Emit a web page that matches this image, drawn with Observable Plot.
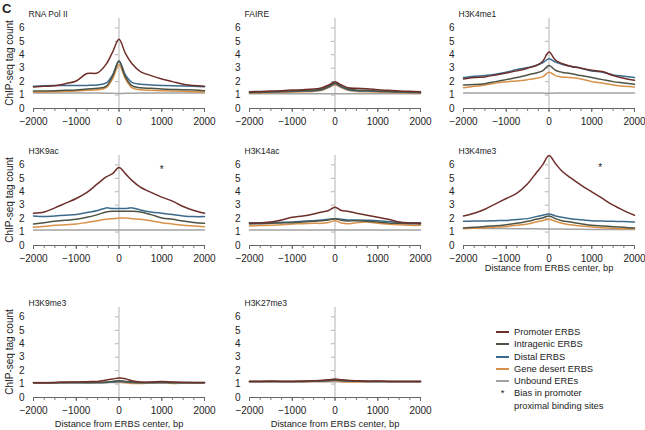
<!DOCTYPE html>
<html><head><meta charset="utf-8">
<script src="https://cdn.jsdelivr.net/npm/d3@7"></script>
<script src="https://cdn.jsdelivr.net/npm/@observablehq/plot@0.6"></script>
<style>
body{margin:0;background:#fff;font-family:"Liberation Sans",Arial,sans-serif;color:#222;}
#wrap{position:relative;width:645px;height:430px;overflow:hidden;background:#fff;}
.cell{position:absolute;}
.ylab{position:absolute;width:120px;height:12px;line-height:12px;text-align:center;font-size:10px;white-space:nowrap;transform:rotate(-90deg);transform-origin:50% 50%;}
#legend{position:absolute;left:496px;top:326px;font-size:9.3px;line-height:12.3px;}
#legend .item{display:flex;align-items:center;white-space:nowrap;}
#legend .sw{display:inline-block;width:13px;height:2px;margin-right:5px;}
#legend .star{display:inline-block;width:13px;margin-right:5px;text-align:center;}
</style></head><body><div id="wrap"><div id="legend"></div></div>
<script>
// ---- data ----
const xs = [-2000,-1750,-1500,-1250,-1000,-750,-500,-300,-150,0,150,300,500,750,1000,1250,1500,1750,2000];
const seriesNames = ["Promoter ERBS","Intragenic ERBS","Distal ERBS","Gene desert ERBS","Unbound EREs"];
const seriesColors = ["#6e2f2b","#4d5445","#3b6a8d","#d9914a","#a3a3a3"];
const panelTitles = ["RNA Pol II","FAIRE","H3K4me1","H3K9ac","H3K14ac","H3K4me3","H3K9me3","H3K27me3"];
const xTickLabels = [-2000,-1000,0,1000,2000];
const xMinorTicks = [-2000,-1750,-1500,-1250,-1000,-750,-500,-250,0,250,500,750,1000,1250,1500,1750,2000];
const yTickLabels = [0,1,2,3,4,5,6];
const xAxisTitle = "Distance from ERBS center, bp";
const yAxisTitle = "ChIP-seq tag count";
const figureTag = "C";
const starPanels = ["H3K9ac","H3K4me3"];
const starX = [1000,1200];
const starY = [5.9,6.0];
const legendStarText = ["Bias in promoter","proximal binding sites"];

const polII_promoter   = [1.6,1.65,1.7,1.85,2.05,2.6,2.65,3.3,4.2,5.15,4.1,3.35,2.75,2.45,2.2,2.0,1.8,1.72,1.65];
const polII_intragenic = [1.3,1.3,1.32,1.35,1.38,1.45,1.5,1.65,2.4,3.5,2.35,1.7,1.55,1.5,1.45,1.42,1.4,1.38,1.32];
const polII_distal     = [1.65,1.7,1.72,1.72,1.72,1.72,1.75,1.9,2.5,3.55,2.5,1.95,1.8,1.75,1.72,1.7,1.68,1.65,1.62];
const polII_desert     = [1.22,1.22,1.25,1.28,1.3,1.35,1.4,1.55,2.2,3.25,2.2,1.55,1.4,1.35,1.32,1.3,1.28,1.25,1.22];
const polII_unbound    = [1.15,1.15,1.15,1.15,1.15,1.15,1.15,1.14,1.13,1.12,1.13,1.14,1.15,1.15,1.15,1.15,1.15,1.15,1.15];

const faire_promoter   = [1.25,1.27,1.3,1.33,1.37,1.4,1.45,1.55,1.75,2.0,1.75,1.55,1.5,1.47,1.4,1.35,1.3,1.28,1.25];
const faire_intragenic = [1.2,1.22,1.25,1.28,1.3,1.33,1.35,1.45,1.65,1.9,1.65,1.45,1.38,1.35,1.3,1.28,1.25,1.22,1.2];
const faire_distal     = [1.2,1.2,1.22,1.25,1.27,1.3,1.32,1.4,1.6,1.85,1.6,1.4,1.32,1.3,1.27,1.25,1.22,1.2,1.2];
const faire_desert     = [1.15,1.15,1.18,1.2,1.22,1.25,1.27,1.35,1.55,1.75,1.55,1.35,1.27,1.25,1.22,1.2,1.18,1.15,1.15];
const faire_unbound    = [1.1,1.1,1.1,1.1,1.1,1.1,1.1,1.1,1.1,1.1,1.1,1.1,1.1,1.1,1.1,1.1,1.1,1.1,1.1];

const k4me1_promoter   = [2.2,2.3,2.35,2.5,2.65,2.8,3.0,3.2,3.5,4.2,3.6,3.35,3.15,3.0,2.85,2.75,2.45,2.25,2.1];
const k4me1_intragenic = [1.75,1.78,1.85,2.0,2.15,2.3,2.5,2.65,2.8,3.2,2.85,2.7,2.6,2.45,2.3,2.15,2.0,1.9,1.8];
const k4me1_distal     = [2.3,2.4,2.45,2.55,2.7,2.9,3.05,3.2,3.4,3.7,3.45,3.3,3.15,3.0,2.8,2.7,2.5,2.4,2.3];
const k4me1_desert     = [1.55,1.65,1.75,1.9,2.0,2.05,2.15,2.25,2.35,2.7,2.45,2.35,2.3,2.2,2.0,1.9,1.75,1.65,1.6];
const k4me1_unbound    = [1.15,1.15,1.15,1.15,1.15,1.15,1.15,1.15,1.15,1.13,1.15,1.15,1.15,1.15,1.15,1.15,1.15,1.15,1.15];

const k9ac_promoter    = [2.4,2.5,2.8,3.15,3.5,3.95,4.6,5.1,5.35,5.8,5.35,4.85,4.35,3.95,3.6,3.3,2.9,2.6,2.4];
const k9ac_intragenic  = [1.6,1.7,1.8,1.88,1.95,2.1,2.3,2.5,2.55,2.55,2.55,2.55,2.5,2.3,2.05,1.95,1.82,1.72,1.65];
const k9ac_distal      = [2.2,2.15,2.2,2.25,2.3,2.45,2.6,2.8,2.75,2.75,2.75,2.8,2.65,2.5,2.4,2.3,2.2,2.15,2.15];
const k9ac_desert      = [1.35,1.42,1.5,1.55,1.6,1.72,1.85,1.95,2.0,2.05,2.05,2.0,1.95,1.85,1.7,1.6,1.5,1.45,1.4];
const k9ac_unbound     = [1.15,1.15,1.15,1.15,1.15,1.15,1.15,1.15,1.15,1.15,1.15,1.15,1.15,1.15,1.15,1.15,1.15,1.15,1.15];

const k14ac_promoter   = [1.65,1.68,1.75,1.9,2.1,2.2,2.35,2.5,2.6,2.85,2.6,2.55,2.4,2.25,2.1,1.95,1.75,1.68,1.65];
const k14ac_intragenic = [1.6,1.62,1.65,1.68,1.7,1.75,1.8,1.85,1.9,2.0,1.88,1.83,1.85,1.8,1.75,1.68,1.65,1.62,1.6];
const k14ac_distal     = [1.7,1.7,1.72,1.73,1.75,1.8,1.85,1.9,1.95,2.0,1.95,1.9,1.9,1.88,1.85,1.78,1.72,1.7,1.7];
const k14ac_desert     = [1.45,1.48,1.5,1.55,1.6,1.62,1.65,1.65,1.72,1.85,1.68,1.62,1.7,1.75,1.65,1.58,1.55,1.5,1.5];
const k14ac_unbound    = [1.15,1.15,1.15,1.15,1.15,1.15,1.15,1.15,1.15,1.15,1.15,1.15,1.15,1.15,1.15,1.15,1.15,1.15,1.15];

const k4me3_promoter   = [2.2,2.4,2.7,3.1,3.5,3.9,4.6,5.4,6.0,6.7,6.1,5.55,5.05,4.5,4.0,3.5,3.0,2.6,2.25];
const k4me3_intragenic = [1.3,1.35,1.42,1.47,1.55,1.65,1.8,1.95,2.05,2.2,2.0,1.85,1.75,1.62,1.5,1.45,1.4,1.35,1.3];
const k4me3_distal     = [1.8,1.82,1.83,1.85,1.87,1.93,2.0,2.15,2.25,2.35,2.2,2.1,2.0,1.92,1.85,1.82,1.8,1.78,1.75];
const k4me3_desert     = [1.25,1.28,1.32,1.37,1.42,1.5,1.6,1.75,1.85,1.95,1.8,1.65,1.55,1.45,1.38,1.32,1.28,1.25,1.25];
const k4me3_unbound    = [1.28,1.28,1.27,1.27,1.26,1.25,1.25,1.24,1.23,1.22,1.22,1.22,1.21,1.21,1.2,1.2,1.2,1.2,1.2];

const k9me3_promoter   = [1.1,1.1,1.12,1.15,1.15,1.18,1.2,1.3,1.38,1.45,1.4,1.25,1.15,1.15,1.2,1.15,1.12,1.12,1.12];
const k9me3_intragenic = [1.1,1.1,1.1,1.12,1.12,1.12,1.13,1.15,1.2,1.25,1.2,1.15,1.12,1.12,1.15,1.12,1.12,1.1,1.1];
const k9me3_distal     = [1.1,1.1,1.1,1.1,1.1,1.1,1.1,1.12,1.15,1.2,1.15,1.12,1.1,1.1,1.1,1.1,1.1,1.1,1.1];
const k9me3_desert     = [1.1,1.08,1.1,1.1,1.12,1.1,1.1,1.12,1.15,1.15,1.1,1.05,1.05,1.08,1.1,1.05,1.08,1.1,1.1];
const k9me3_unbound    = [1.12,1.12,1.12,1.12,1.12,1.12,1.12,1.12,1.12,1.12,1.12,1.12,1.12,1.12,1.12,1.12,1.12,1.12,1.12];

const k27me3_promoter   = [1.2,1.2,1.22,1.2,1.2,1.22,1.25,1.28,1.32,1.38,1.32,1.28,1.25,1.22,1.22,1.2,1.2,1.2,1.2];
const k27me3_intragenic = [1.2,1.2,1.2,1.2,1.2,1.2,1.22,1.24,1.27,1.3,1.27,1.24,1.22,1.2,1.2,1.2,1.2,1.2,1.2];
const k27me3_distal     = [1.2,1.2,1.2,1.2,1.2,1.2,1.21,1.22,1.25,1.28,1.25,1.22,1.21,1.2,1.2,1.2,1.2,1.2,1.2];
const k27me3_desert     = [1.2,1.2,1.18,1.2,1.2,1.18,1.2,1.2,1.22,1.25,1.18,1.15,1.16,1.18,1.2,1.2,1.2,1.2,1.2];
const k27me3_unbound    = [1.18,1.18,1.18,1.18,1.18,1.18,1.18,1.18,1.18,1.18,1.18,1.18,1.18,1.18,1.18,1.18,1.18,1.18,1.18];

const panelSeries = [
  [polII_promoter, polII_intragenic, polII_distal, polII_desert, polII_unbound],
  [faire_promoter, faire_intragenic, faire_distal, faire_desert, faire_unbound],
  [k4me1_promoter, k4me1_intragenic, k4me1_distal, k4me1_desert, k4me1_unbound],
  [k9ac_promoter, k9ac_intragenic, k9ac_distal, k9ac_desert, k9ac_unbound],
  [k14ac_promoter, k14ac_intragenic, k14ac_distal, k14ac_desert, k14ac_unbound],
  [k4me3_promoter, k4me3_intragenic, k4me3_distal, k4me3_desert, k4me3_unbound],
  [k9me3_promoter, k9me3_intragenic, k9me3_distal, k9me3_desert, k9me3_unbound],
  [k27me3_promoter, k27me3_intragenic, k27me3_distal, k27me3_desert, k27me3_unbound]
];
const xLabelPanels = ["H3K4me3","H3K9me3","H3K27me3"];

// ---- layout ----
const colLeft = [0,215,430];
const colMarginLeft = [33,34,33];
const rowTop = [0,137,289];
const cellW = 215, cellH = 142;
const fmt = d => d < 0 ? "\u2212" + Math.abs(d) : String(d);
const wrap = document.getElementById("wrap");

const tag = document.createElement("div");
tag.style.cssText = "position:absolute;left:2px;top:1px;font-weight:bold;font-size:13px;z-index:2;";
tag.textContent = figureTag;
wrap.appendChild(tag);

panelTitles.forEach((title, i) => {
  const col = i % 3, row = Math.floor(i / 3);
  const data = [];
  for (let k = seriesNames.length - 1; k >= 0; k--) {
    panelSeries[i][k].forEach((v, j) => data.push({x: xs[j], y: v, s: seriesNames[k]}));
  }
  const stars = starPanels.map((p, j) => ({p, x: starX[j], y: starY[j]})).filter(d => d.p === title);
  const marks = [
    Plot.ruleX([0], {stroke: "#b3b3b3", strokeWidth: 1}),
    Plot.ruleY(yTickLabels.slice(1), {x1: -85, x2: 0, stroke: "#b3b3b3"}),
    Plot.ruleY([0], {stroke: "#666"}),
    Plot.axisX({ticks: xMinorTicks, tickSize: 3, tickFormat: () => "", stroke: "#777"}),
    Plot.axisX({ticks: xTickLabels, tickSize: 4, tickFormat: fmt, stroke: "#666", fill: "#222"}),
    Plot.axisY({ticks: yTickLabels, tickSize: 0, tickPadding: 9, tickFormat: d => String(d), fill: "#222"}),
    Plot.line(data, {x: "x", y: "y", z: "s", stroke: "s", strokeWidth: 1.5, curve: "catmull-rom"}),
    Plot.text([title], {frameAnchor: "top-left", text: d => d, dx: -5, dy: -8, textAnchor: "start", fontSize: 8.5, fill: "#222"}),
    Plot.text(stars, {x: "x", y: d => d.y - 0.25, text: () => "*", fontSize: 10, fill: "#222"})
  ];
  if (xLabelPanels.includes(title)) {
    marks.push(Plot.text([xAxisTitle], {frameAnchor: "bottom", text: d => d, dy: row === 1 ? 25 : 29, fontSize: 9.3, fill: "#222"}));
  }
  const chart = Plot.plot({
    width: cellW, height: cellH,
    marginLeft: colMarginLeft[col], marginRight: cellW - colMarginLeft[col] - 171,
    marginTop: 18, marginBottom: cellH - 108,
    style: {fontFamily: '"Liberation Sans", Arial, sans-serif', fontSize: "10px", background: "transparent", overflow: "visible"},
    x: {domain: [-2000, 2000], label: null},
    y: {domain: [0, 6.7], label: null},
    color: {domain: seriesNames, range: seriesColors},
    marks
  });
  const div = document.createElement("div");
  div.className = "cell";
  div.style.left = colLeft[col] + "px";
  div.style.top = rowTop[row] + "px";
  div.appendChild(chart);
  wrap.appendChild(div);
  if (col === 0) {
    const yl = document.createElement("div");
    yl.className = "ylab";
    yl.textContent = yAxisTitle;
    // centre at x=10, y = row top + frame middle (63)
    yl.style.left = (10 - 60) + "px";
    yl.style.top = (rowTop[row] + 63 - 6) + "px";
    wrap.appendChild(yl);
  }
});

// ---- legend ----
const legend = document.getElementById("legend");
seriesNames.forEach((name, k) => {
  const it = document.createElement("div");
  it.className = "item";
  it.innerHTML = `<span class="sw" style="background:${seriesColors[k]}"></span><span>${name}</span>`;
  legend.appendChild(it);
});
const st = document.createElement("div");
st.className = "item";
st.innerHTML = `<span class="star">*</span><span>${legendStarText[0]}</span>`;
legend.appendChild(st);
const st2 = document.createElement("div");
st2.className = "item";
st2.innerHTML = `<span class="star"></span><span>${legendStarText[1]}</span>`;
legend.appendChild(st2);
</script>
</body></html>
